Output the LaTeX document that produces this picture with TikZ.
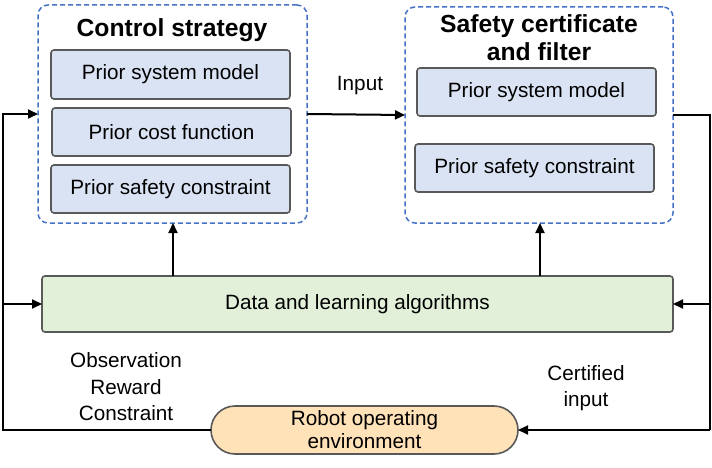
\documentclass[tikz,border=0pt]{standalone}
\usepackage{fontspec}
\setmainfont{Liberation Sans}
\usetikzlibrary{arrows.meta,shapes.misc}
\definecolor{boxblue}{HTML}{DAE3F3}
\definecolor{boxgreen}{HTML}{E2F0D9}
\definecolor{boxorange}{HTML}{FFE2B8}
\definecolor{dashblue}{HTML}{4472C4}
\definecolor{bordergray}{HTML}{595959}
\tikzset{
  dbox/.style={draw=dashblue, dashed, dash pattern=on 5pt off 3pt, line width=1.5pt, rounded corners=10pt, inner sep=0pt, outer sep=0pt},
  innerbox/.style={draw=bordergray, fill=boxblue, line width=1.6pt, rounded corners=3pt, inner sep=0pt, outer sep=0pt, font=\fontsize{20.7}{24}\selectfont},
  databox/.style={draw=bordergray, fill=boxgreen, line width=1.6pt, rounded corners=3pt, inner sep=0pt, outer sep=0pt, font=\fontsize{20.7}{24}\selectfont},
  envbox/.style={draw=bordergray, fill=boxorange, line width=1.6pt, rounded rectangle, inner sep=0pt, outer sep=0pt, align=center, font=\fontsize{20.7}{24}\selectfont},
  titletext/.style={align=center, font=\bfseries\fontsize{24.7}{28}\selectfont, inner sep=0pt},
  plaintext/.style={align=center, font=\fontsize{20.7}{26.5}\selectfont, inner sep=0pt},
  arr/.style={line width=2pt, -{Triangle[length=10pt,width=9pt]}},
  conn/.style={line width=2pt}
}
\begin{document}
\begin{tikzpicture}[x=1pt,y=-1pt]
\useasboundingbox (0,0) rectangle (712,468);
% Control strategy
\node[dbox, minimum width=269, minimum height=218] (cs) at (172.5,114) {};
\node[titletext] (cst) at (172,30) {Control strategy};
\node[innerbox, minimum width=239, minimum height=49] (c1) at (170.5,74.5) {Prior system model};
\node[innerbox, minimum width=239, minimum height=48] (c2) at (171.5,132) {Prior cost function};
\node[innerbox, minimum width=239, minimum height=48] (c3) at (170.5,189) {Prior safety constraint};
% Safety certificate
\node[dbox, minimum width=268, minimum height=216] (sf) at (539,115) {};
\node[titletext] (sft) at (539,38) {Safety certificate\\and filter};
\node[innerbox, minimum width=239, minimum height=48] (s1) at (536.5,92) {Prior system model};
\node[innerbox, minimum width=239, minimum height=48] (s2) at (534.5,168) {Prior safety constraint};
% Data
\node[databox, minimum width=631, minimum height=56] (data) at (357.5,304) {Data and learning algorithms};
% Environment
\node[envbox, minimum width=307, minimum height=48] (env) at (364.5,430) {Robot operating\\[-1pt]environment};
% labels
\node[plaintext] (inp) at (360,86) {Input};
\node[plaintext] (obs) at (126,387) {Observation\\Reward\\Constraint};
\node[plaintext] (cert) at (586,388) {Certified\\input};
% coordinates
\coordinate (L) at (3,430);
\coordinate (R) at (710,430);
\coordinate (u1) at (173,0);
\coordinate (u2) at (540,0);
% connectors
\draw[arr] (cs.east) -- (sf.west);
\draw[arr] (env.west) -- (env.west -| L) |- (cs.west);
\draw[arr] (L |- data.west) -- (data.west);
\draw[conn] (sf.east) -| (R);
\draw[arr] (R) -- (env.east);
\draw[arr] (R |- data.east) -- (data.east);
\draw[arr] (data.north -| u1) -- (cs.south -| u1);
\draw[arr] (data.north -| u2) -- (sf.south -| u2);
\end{tikzpicture}
\end{document}
